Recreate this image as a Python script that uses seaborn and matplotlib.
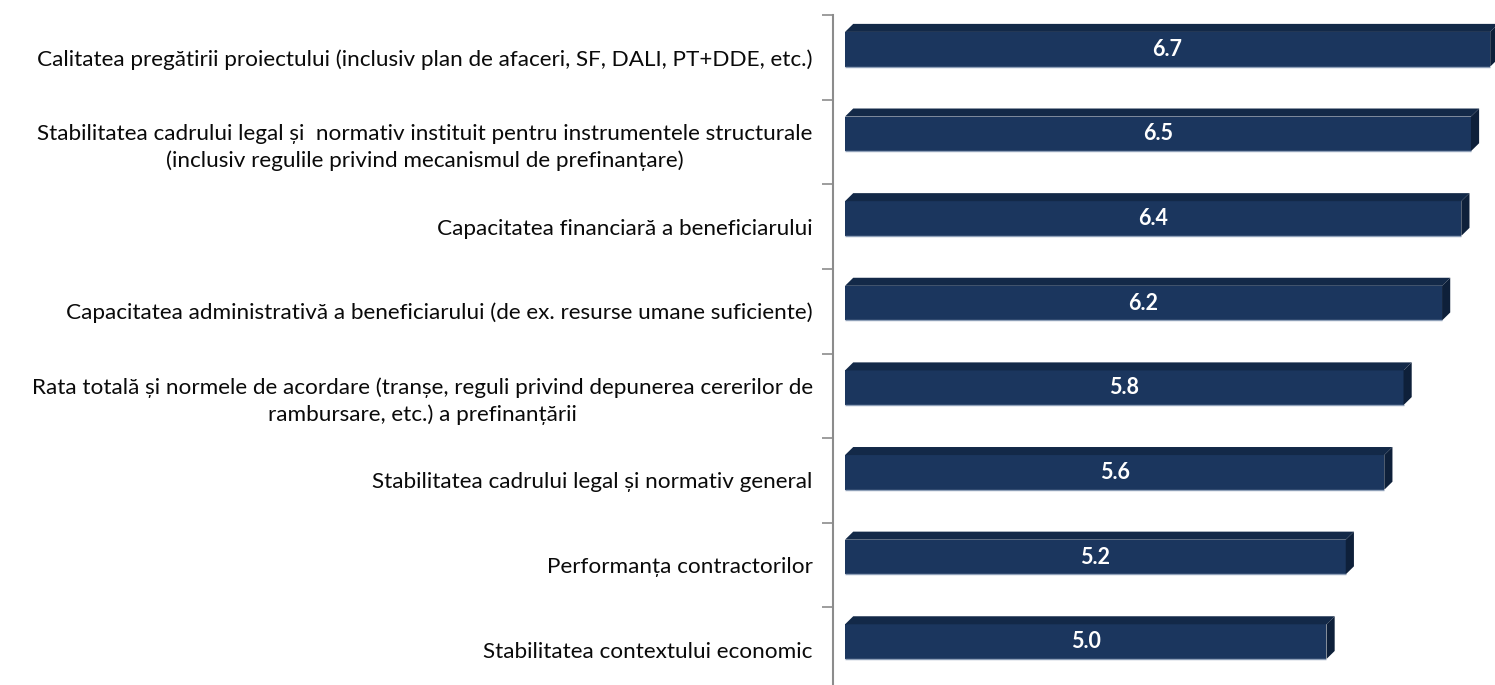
import matplotlib
matplotlib.use("Agg")
import matplotlib.pyplot as plt
from matplotlib.patches import Polygon
import seaborn as sns
import pandas as pd

# data
categories = [
    "Calitatea pregătirii proiectului (inclusiv plan de afaceri, SF, DALI, PT+DDE, etc.)",
    "Stabilitatea cadrului legal și  normativ instituit pentru instrumentele structurale\n(inclusiv regulile privind mecanismul de prefinanțare)",
    "Capacitatea financiară a beneficiarului",
    "Capacitatea administrativă a beneficiarului (de ex. resurse umane suficiente)",
    "Rata totală și normele de acordare (tranșe, reguli privind depunerea cererilor de\nrambursare, etc.) a prefinanțării",
    "Stabilitatea cadrului legal și normativ general",
    "Performanța contractorilor",
    "Stabilitatea contextului economic",
]
scores = [6.7, 6.5, 6.4, 6.2, 5.8, 5.6, 5.2, 5.0]

FRONT = "#1b365e"
TOP = "#132948"
SIDE = "#0e203a"

sns.set_style("white")
plt.rcParams['font.family'] = ['Lato', 'DejaVu Sans']

df = pd.DataFrame({"label": categories, "score": scores})

fig = plt.figure(figsize=(14.95, 6.85), dpi=100)
ax = fig.add_axes([833 / 1495, -7 / 685, 662 / 1495, 677 / 685])

sns.barplot(data=df, x="score", y="label", orient="h", width=0.41,
            color=FRONT, saturation=1, ax=ax, edgecolor="none")

# fake 3D depth like the Excel original
dx, dy, shift = 0.085, 0.095, -0.095
for p in ax.patches:
    p.set_y(p.get_y() + shift)
    x0, x1 = 0, p.get_width()
    yt, yb = p.get_y(), p.get_y() + p.get_height()
    ax.add_patch(Polygon([(x0, yt), (x0 + dx, yt - dy), (x1 + dx, yt - dy), (x1, yt)],
                         closed=True, facecolor=TOP, edgecolor="none"))
    ax.add_patch(Polygon([(x1, yt), (x1 + dx, yt - dy), (x1 + dx, yb - dy), (x1, yb)],
                         closed=True, facecolor=SIDE, edgecolor="none"))
    ax.plot([x0, x1], [yb, yb], color="#8fa0b8", lw=1, solid_capstyle="butt")
    ax.text(x1 / 2, (yt + yb) / 2, f"{x1:.1f}", color="white", fontsize=15.5,
            fontweight="bold", ha="center", va="center")

ax.set_xlim(-0.125, 6.75)
ax.set_ylim(7.5, -0.5)
ax.set_xlabel("")
ax.set_ylabel("")
ax.set_xticks([])

# ticks sit on the category boundaries, labels at the centres
ax.set_yticks([i - 0.5 for i in range(8)], minor=False)
ax.set_yticklabels([])
ax.set_yticks(range(8), minor=True)
ax.set_yticklabels(categories, minor=True, fontsize=16.2, color="#0a0a0a",
                   multialignment="center", linespacing=1.4)
ax.tick_params(axis="y", which="major", length=8, width=1.2, color="#8c8c8c", left=True)
ax.tick_params(axis="y", which="minor", length=0, pad=14.5)

for side in ["top", "right", "bottom"]:
    ax.spines[side].set_visible(False)
ax.spines["left"].set_color("#8c8c8c")
ax.spines["left"].set_linewidth(1.5)

fig.savefig("out.png", dpi=100)
